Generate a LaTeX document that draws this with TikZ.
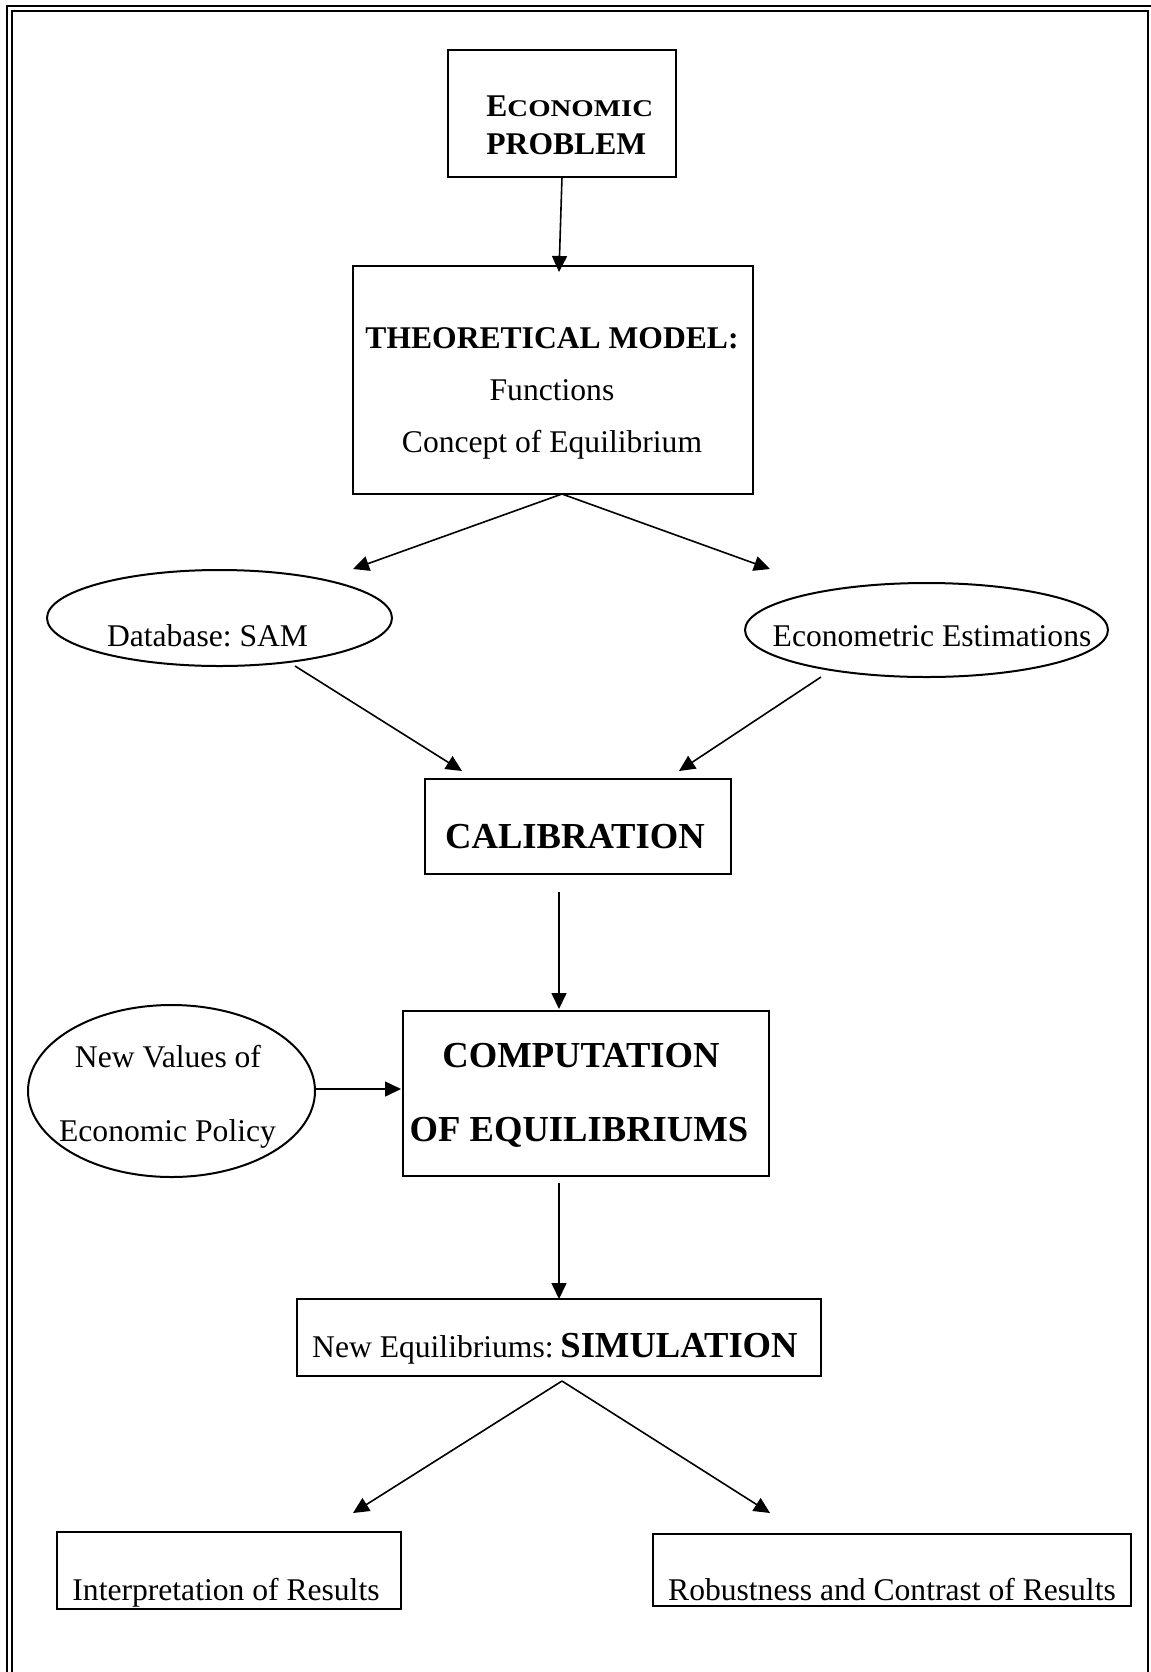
\documentclass[tikz,border=0pt]{standalone}
\usepackage{fontspec}
\setmainfont{Liberation Serif}
\usetikzlibrary{arrows.meta,shapes.geometric}
\frenchspacing
\tikzset{
  sz/.style 2 args={minimum width=#1*0.5pt, minimum height=#2*0.5pt},
  box/.style={draw, line width=1pt, inner sep=0pt, rectangle},
  oval/.style={draw, line width=1pt, inner sep=0pt, ellipse},
  reg/.style={anchor=base, inner sep=0pt, font=\fontsize{15.8}{19}\selectfont},
  big/.style={anchor=base, inner sep=0pt, font=\fontsize{18.3}{22}\selectfont\bfseries},
  bld/.style={anchor=base, inner sep=0pt, font=\fontsize{15.8}{19}\selectfont\bfseries},
  arr/.style={line width=0.8pt, -{Triangle[length=8pt,width=7.5pt]}},
  frame/.style={line width=1.2pt}
}
\begin{document}
\begin{tikzpicture}[x=0.5pt,y=-0.5pt]
\useasboundingbox (0,0) rectangle (1151,1672);
% frame
\draw[frame] (7,1672) -- (7,6) -- (1151,6);
\draw[frame] (12,1672) -- (12,11) -- (1148,11) -- (1148,1672);

% boxes
\node[box, sz={228}{127}] (econ) at (562,113.5) {};
\node[box, sz={400}{228}] (theo) at (553,380) {};
\node[oval, sz={345}{96}] (db) at (219.5,618) {};
\node[oval, sz={363}{94}] (ecm) at (926.5,630) {};
\node[box, sz={306}{95}] (calib) at (578,826.5) {};
\node[box, sz={366}{165}] (comp) at (586,1093.5) {};
\node[oval, sz={287}{172}] (nv) at (171.5,1091) {};
\node[box, sz={524}{77}] (sim) at (559,1337.5) {};
\node[box, sz={344}{77}] (interp) at (229,1570.5) {};
\node[box, sz={478}{72}] (rob) at (892,1570) {};

% texts
\node[bld, anchor=base west] (t1a) at (486,116) {E\scalebox{1.2}[1]{\fontsize{12}{14}\selectfont CONOMIC}};
\node[bld, anchor=base west] (t1b) at (486,154) {PROBLEM};
\node[bld] (t2a) at (552,348) {THEORETICAL MODEL:};
\node[reg] (t2b) at (552,400) {Functions};
\node[reg] (t2c) at (552,452) {Concept of Equilibrium};
\node[reg] (t3) at (207.5,646) {Database: SAM};
\node[reg] (t4) at (932,646) {Econometric Estimations};
\node[big] (t5) at (575,848) {CALIBRATION};
\node[big] (t6a) at (581,1067) {COMPUTATION};
\node[big] (t6b) at (579,1141) {OF EQUILIBRIUMS};
\node[reg] (t7a) at (168,1067) {New Values of};
\node[reg] (t7b) at (167.5,1141) {Economic Policy};
\node[reg, anchor=base east] (t8a) at (554,1357) {New Equilibriums:};
\node[big, anchor=base west] (t8b) at (560,1357) {SIMULATION};
\node[reg] (t9) at (226,1600) {Interpretation of Results};
\node[reg] (t10) at (892,1600) {Robustness and Contrast of Results};

% connector end points
\coordinate (a1s) at (562,177);  \coordinate (a1e) at (559,272);
\coordinate (a2s) at (562,494);  \coordinate (a2e) at (353,569);
\coordinate (a3e) at (770,569);
\coordinate (a4s) at (295,666);  \coordinate (a4e) at (462,771);
\coordinate (a5s) at (821,677);  \coordinate (a5e) at (679,771);
\coordinate (a6s) at (559,892);  \coordinate (a6e) at (559,1009);
\coordinate (a7s) at (316,1089); \coordinate (a7e) at (401,1089);
\coordinate (a8s) at (559,1183); \coordinate (a8e) at (559,1299);
\coordinate (a9s) at (562,1381); \coordinate (a9e) at (353,1513);
\coordinate (a10e) at (770,1513);

\draw[arr] (a1s) -- (a1e);
\draw[arr] (a2s) -- (a2e);
\draw[arr] (a2s) -- (a3e);
\draw[arr] (a4s) -- (a4e);
\draw[arr] (a5s) -- (a5e);
\draw[arr] (a6s) -- (a6e);
\draw[arr] (a7s) -- (a7e);
\draw[arr] (a8s) -- (a8e);
\draw[arr] (a9s) -- (a9e);
\draw[arr] (a9s) -- (a10e);
\end{tikzpicture}
\end{document}
